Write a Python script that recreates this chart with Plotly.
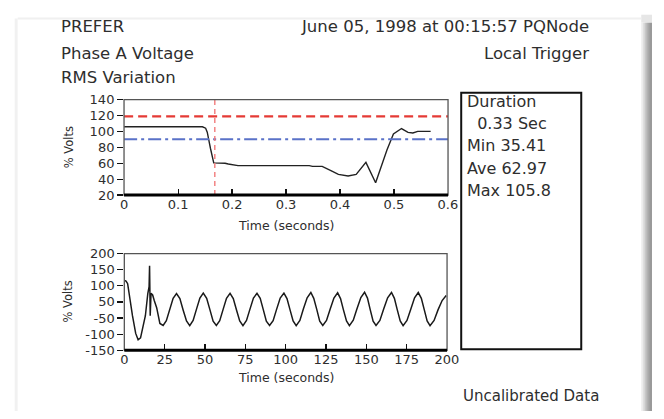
import plotly.graph_objects as go

# ---------------- data ----------------
rms_time = [0, 0.145, 0.151, 0.154, 0.160, 0.166, 0.187, 0.193, 0.211, 0.343, 0.349,
            0.367, 0.385, 0.397, 0.415, 0.430, 0.448, 0.466, 0.487, 0.499, 0.514,
            0.526, 0.535, 0.544, 0.568]
rms_volts = [105.8, 105.8, 104, 99, 78.5, 60.4, 60, 59, 57, 57, 56,
             56, 50, 46, 44, 46, 61, 35.4, 76.6, 96.7, 103.6,
             98.8, 98, 100, 100]

upper_limit = 119
lower_limit = 90
trigger_time = 0.168

wave_time_start = [0, 1, 2, 3, 5, 7, 8.5, 10, 11.5, 13, 14.5, 15.3, 15.6, 16, 16.5,
                   17.5, 18.5, 20, 22]
wave_volts_start = [103, 100, 91, 51, -25, -89, -112, -105, -70, -25, 55, 80, 156, -25, 56,
                    50, 30, 4, -53]
wave_time_steady = [24, 26, 28.2, 30.2, 32.3, 34.4, 36.4, 38.5,
                    40.5, 42.6, 44.7, 46.8, 48.9, 51, 53, 55,
                    57, 59.1, 61.2, 63.3, 65.5, 67.5, 69.5, 71.5,
                    73.5, 75.7, 77.8, 80, 82.2, 84.2, 86.1, 88,
                    90, 92.2, 94.4, 96.6, 98.9, 100.8, 102.7, 104.6,
                    106.5, 108.8, 111, 113.3, 115.6, 117.4, 119.3, 121.1,
                    123, 125.3, 127.6, 129.9, 132.2, 134, 135.8, 137.7,
                    139.5, 141.9, 144.2, 146.6, 148.9, 150.7, 152.4, 154.2,
                    156, 158.4, 160.8, 163.2, 165.6, 167.4, 169.2, 171,
                    172.8, 175.2, 177.6, 179.9, 182.2, 184.1, 185.9, 187.7,
                    189.5, 192, 194.5, 197, 199.5]
wave_volts_steady = [-60, -43, -2, 38, 55, 37, -4, -44,
                     -61, -42, -1, 39, 57, 38, -3, -45,
                     -60, -43, -2, 38, 56, 37, -4, -44,
                     -61, -42, -2, 39, 56, 38, -3, -45,
                     -60, -43, -1, 39, 57, 37, -4, -44,
                     -61, -42, 0, 40, 59, 38, -3, -45,
                     -60, -42, -1, 39, 58, 37, -4, -44,
                     -61, -41, 0, 41, 60, 39, -3, -45,
                     -60, -42, 0, 40, 59, 38, -4, -44,
                     -61, -42, -1, 40, 59, 38, -3, -44,
                     -61, -42, -3, 30, 48]

top_xticks = [0, 0.1, 0.2, 0.3, 0.4, 0.5, 0.6]
top_xlabels = ["0", "0.1", "0.2", "0.3", "0.4", "0.5", "0.6"]
top_yticks = [20, 40, 60, 80, 100, 120, 140]
bot_xticks = [0, 25, 50, 75, 100, 125, 150, 175, 200]
bot_ylabels = ["200", "150", "100", "50", "-50", "-100", "-150"]

summary_lines = ["Duration", "  0.33 Sec", "Min 35.41", "Ave 62.97", "Max 105.8"]

# ---------------- layout helpers ----------------
W, H = 664, 419
def px(x):
    return x / W
def py(y):
    return 1 - y / H

FONT = "DejaVu Sans"
TXT = "#2e2e2e"

bot_ymin, bot_ymax = -150, 200
step = (bot_ymax - bot_ymin) / (len(bot_ylabels) - 1)
bot_yticks = [bot_ymax - i * step for i in range(len(bot_ylabels))]

fig = go.Figure()
fig.add_trace(go.Scatter(x=rms_time, y=rms_volts, mode="lines",
                         line=dict(color="#222", width=1.4), xaxis="x", yaxis="y",
                         showlegend=False, hoverinfo="skip"))
fig.add_trace(go.Scatter(x=[0, 0.6], y=[upper_limit, upper_limit], mode="lines",
                         line=dict(color="#e53a35", width=2.2, dash="9px,5px"),
                         xaxis="x", yaxis="y", showlegend=False))
fig.add_trace(go.Scatter(x=[0, 0.6], y=[lower_limit, lower_limit], mode="lines",
                         line=dict(color="#5a72c8", width=2, dash="13px,4px,3px,4px"),
                         xaxis="x", yaxis="y", showlegend=False))
fig.add_trace(go.Scatter(x=[trigger_time, trigger_time], y=[20, 140], mode="lines",
                         line=dict(color="#f27a7a", width=1.4, dash="5px,4px"),
                         xaxis="x", yaxis="y", showlegend=False))
fig.add_trace(go.Scatter(x=wave_time_start + wave_time_steady,
                         y=wave_volts_start + wave_volts_steady, mode="lines",
                         line=dict(color="#1a1a1a", width=1.5), xaxis="x2", yaxis="y2",
                         showlegend=False, hoverinfo="skip"))

tickfont = dict(family=FONT, size=13, color=TXT)
common_x = dict(showgrid=False, zeroline=False, showline=False, ticks="inside",
                ticklen=6, tickwidth=1.2, tickcolor="#111", tickfont=tickfont)
common_y = dict(showgrid=False, zeroline=False, showline=False, ticks="outside",
                ticklen=6, tickwidth=1.2, tickcolor="#111", tickfont=tickfont)

top_dom_x = [px(123), px(455)]
top_dom_y = [py(195), py(96)]
bot_dom_x = [px(123.3), px(454)]
bot_dom_y = [py(356), py(255.7)]

fig.update_layout(
    width=W, height=H, margin=dict(l=0, r=0, t=0, b=0),
    paper_bgcolor="white", plot_bgcolor="white",
    xaxis=dict(domain=top_dom_x, range=[-0.0002, 0.6002], anchor="y",
               tickvals=top_xticks, ticktext=top_xlabels, **common_x),
    yaxis=dict(domain=top_dom_y, range=[20, 140.05], anchor="x",
               tickvals=top_yticks, **common_y),
    yaxis3=dict(domain=top_dom_y, range=[20, 140.05], anchor="x", overlaying="y",
                tickvals=top_yticks, showticklabels=False, showgrid=False, zeroline=False,
                ticks="inside", ticklen=5, tickwidth=1.2, tickcolor="#111"),
    xaxis2=dict(domain=bot_dom_x, range=[-0.05, 200.05], anchor="y2",
                tickvals=bot_xticks, **common_x),
    yaxis2=dict(domain=bot_dom_y, range=[bot_ymin, bot_ymax + 0.1], anchor="x2",
                tickvals=bot_yticks, ticktext=bot_ylabels, **common_y),
    yaxis4=dict(domain=bot_dom_y, range=[bot_ymin, bot_ymax + 0.1], anchor="x2", overlaying="y2",
                tickvals=bot_yticks, showticklabels=False, showgrid=False, zeroline=False,
                ticks="inside", ticklen=5, tickwidth=1.2, tickcolor="#111"),
)

shapes = []
# card shadow
shadow = [(653, 655, "#ececec"), (655, 657, "#d6d6d6"), (657, 659, "#bdbdbd"),
          (659, 661, "#a9a9a9"), (661, 664, "#9a9a9a")]
for x0, x1, c in shadow:
    shapes.append(dict(type="rect", xref="paper", yref="paper", x0=px(x0), x1=px(x1),
                       y0=0, y1=py(16), fillcolor=c, line=dict(width=0), layer="below"))
shapes.append(dict(type="rect", xref="paper", yref="paper", x0=px(653), x1=px(664),
                   y0=py(16), y1=py(8), fillcolor="#e6e6e6", line=dict(width=0), layer="below"))
shapes.append(dict(type="rect", xref="paper", yref="paper", x0=px(11), x1=px(14),
                   y0=0, y1=py(12), fillcolor="#f1f1f1", line=dict(width=0), layer="below"))
shapes.append(dict(type="rect", xref="paper", yref="paper", x0=px(14), x1=px(653),
                   y0=py(13), y1=py(11), fillcolor="#f0f0f0", line=dict(width=0), layer="below"))

# plot frames
for xr, yr in (("x", "y"), ("x2", "y2")):
    shapes.append(dict(type="rect", xref=f"{xr} domain", yref=f"{yr} domain",
                       x0=0, x1=1, y0=0, y1=1, line=dict(color="#555", width=1.3)))
    shapes.append(dict(type="line", xref=f"{xr} domain", yref=f"{yr} domain",
                       x0=0, x1=1, y0=0, y1=0, line=dict(color="#000", width=3)))
# summary box
shapes.append(dict(type="rect", xref="paper", yref="paper", x0=px(468.5), x1=px(591.5),
                   y0=py(355), y1=py(89), line=dict(color="#111", width=2)))
fig.update_layout(shapes=shapes)

ann = []
def text(x, y, s, size, anchor="left", angle=0):
    ann.append(dict(x=px(x), y=py(y), xref="paper", yref="paper", text=s, showarrow=False,
                    xanchor=anchor, yanchor="middle", textangle=angle,
                    font=dict(family=FONT, size=size, color=TXT)))

hs = 16.5
text(56, 20, "PREFER", hs)
text(56, 48, "Phase A Voltage", hs)
text(56, 73, "RMS Variation", hs)
text(601, 20, "June 05, 1998 at 00:15:57 PQNode", hs, "right")
text(601, 48, "Local Trigger", hs, "right")
text(612, 403, "Uncalibrated Data", 15, "right")

for i, line in enumerate(summary_lines):
    text(472, 98 + i * 23, line.replace(" ", "&nbsp;") if line.startswith(" ") else line, 16)

text(289, 227, "Time (seconds)", 12.5, "center")
text(289, 384, "Time (seconds)", 12.5, "center")
text(66, 145, "% Volts", 11.5, "center", -90)
text(66, 305, "% Volts", 11.5, "center", -90)
fig.update_layout(annotations=ann)

post = ("document.documentElement.style.margin='0';document.body.style.margin='0';"
        "document.body.style.overflow='hidden';")
fig.write_html("out.html", config={"displayModeBar": False, "staticPlot": True},
               post_script=post)
